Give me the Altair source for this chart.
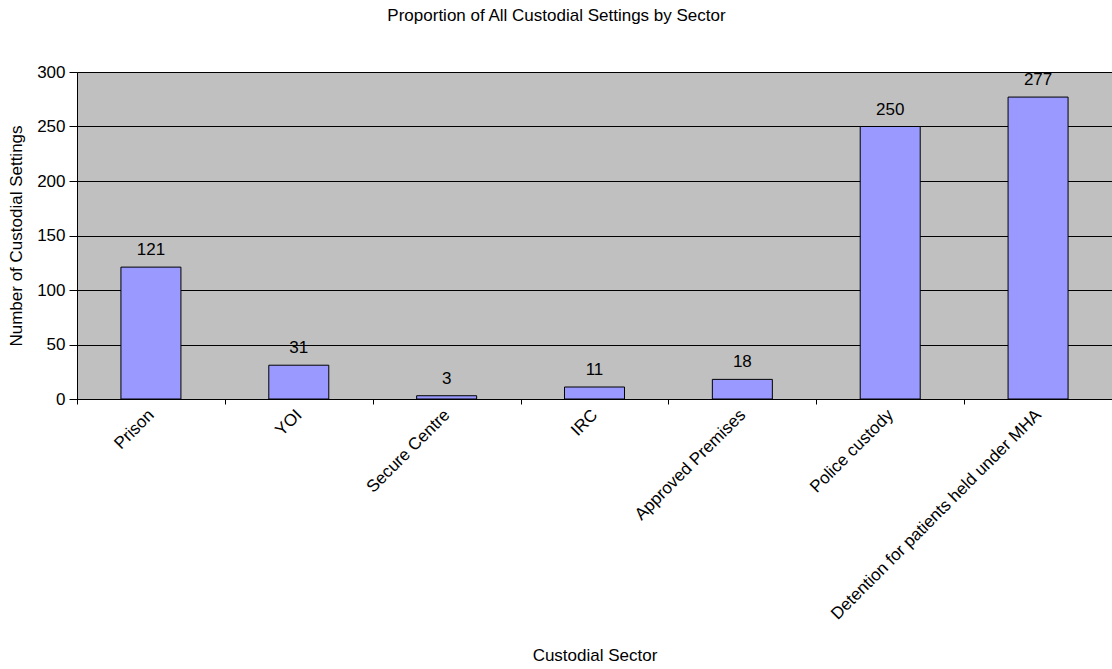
import altair as alt
import pandas as pd

categories = ["Prison", "YOI", "Secure  Centre", "IRC", "Approved Premises",
              "Police  custody", "Detention for patients held under MHA"]
values = [121, 31, 3, 11, 18, 250, 277]

df = pd.DataFrame({"sector": categories, "count": values})

FONT = "Liberation Sans"
FS = 17

x = alt.X("sector:N", sort=categories, title="Custodial Sector",
          scale=alt.Scale(paddingInner=0, paddingOuter=0),
          axis=alt.Axis(labelAngle=-45, labelAlign="right", labelBaseline="middle",
                        labelPadding=8, labelLimit=0, tickBand="extent", tickSize=5,
                        tickColor="black", domainColor="black",
                        labelFont=FONT, labelFontSize=FS, labelColor="black",
                        titleFont=FONT, titleFontSize=FS, titleFontWeight="normal",
                        titleColor="black", titleY=256, titleBaseline="middle"))
y = alt.Y("count:Q", title="Number of Custodial Settings",
          scale=alt.Scale(domain=[0, 300], nice=False),
          axis=alt.Axis(values=[0, 50, 100, 150, 200, 250, 300], tickSize=8,
                        tickColor="black", domainColor="black", gridColor="black",
                        gridOpacity=1, gridWidth=1,
                        labelFont=FONT, labelFontSize=FS, labelColor="black",
                        labelPadding=4,
                        titleFont=FONT, titleFontSize=FS, titleFontWeight="normal",
                        titleColor="black", titleX=-61, titleY=163.5,
                        titleBaseline="middle", titleAngle=-90))

bars = alt.Chart(df).mark_bar(size=60, color="#9999FF", stroke="black",
                               strokeWidth=1).encode(x=x, y=y)
labels = alt.Chart(df).mark_text(font=FONT, fontSize=FS, color="black",
                                  baseline="middle", dy=-17).encode(
    x=alt.X("sector:N", sort=categories), y="count:Q", text="count:Q")

chart = alt.layer(bars, labels).properties(
    width=1035, height=327,
    background="white",
    title=alt.TitleParams("Proportion of All Custodial Settings by Sector",
                          font=FONT, fontSize=FS, fontWeight="normal",
                          color="black", offset=38, dx=-38),
    autosize=alt.AutoSizeParams(type="none"),
    padding={"left": 77, "top": 72, "right": 0, "bottom": 270},
).configure_view(fill="#C0C0C0", stroke="#808080", strokeWidth=1)

chart.save("out.html", embed_options={"renderer": "svg", "actions": False})
